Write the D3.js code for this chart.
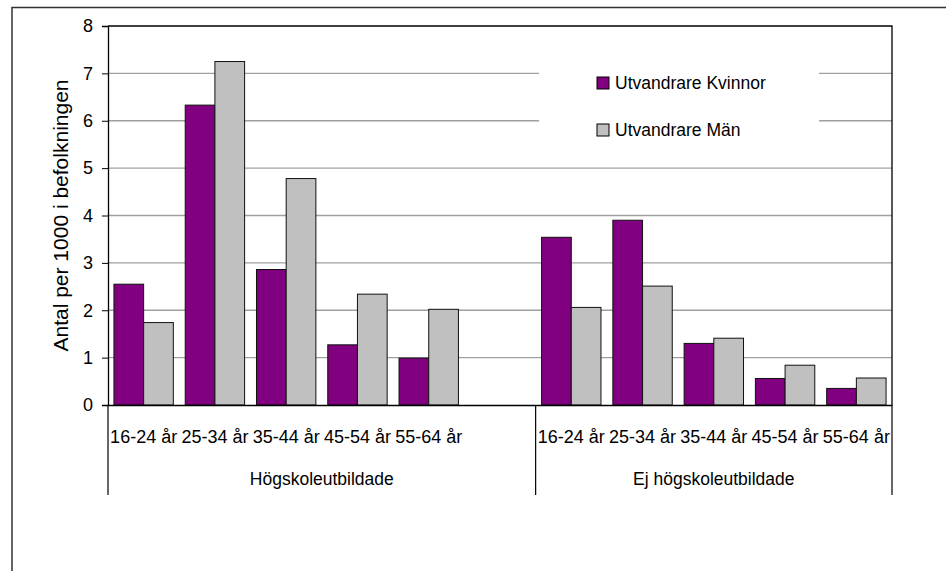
<!DOCTYPE html>
<html>
<head>
<meta charset="utf-8">
<script src="https://cdnjs.cloudflare.com/ajax/libs/d3/7.8.5/d3.min.js"></script>
<style>
  body { margin: 0; background: #fff; }
  text { font-family: "Liberation Sans", Arial, sans-serif; fill: #000; }
</style>
</head>
<body>
<script>
let svgWidth = 946;
let svgHeight = 571;

// data
let ageGroups = ["16-24 år", "25-34 år", "35-44 år", "45-54 år", "55-64 år"];
let educationGroups = ["Högskoleutbildade", "Ej högskoleutbildade"];
let seriesNames = ["Utvandrare Kvinnor", "Utvandrare Män"];
let womenHigh = [2.55, 6.33, 2.86, 1.27, 0.99];
let menHigh = [1.74, 7.25, 4.78, 2.34, 2.02];
let womenLow = [3.54, 3.90, 1.30, 0.56, 0.35];
let menLow = [2.06, 2.51, 1.41, 0.84, 0.57];
let yTicks = [0, 1, 2, 3, 4, 5, 6, 7, 8];
let colors = ["#800080", "#c0c0c0"];

let margin = { top: 26, right: 54, bottom: 166, left: 108 };
let chartWidth = svgWidth - margin.left - margin.right;
let chartHeight = svgHeight - margin.top - margin.bottom;

// one slot per category, the first group has an empty slot at its end
let slots = [];
ageGroups.forEach((a, i) => slots.push({ key: "0|" + a, age: a, group: 0, values: [womenHigh[i], menHigh[i]] }));
slots.push({ key: "0|blank", age: "", group: 0, values: [] });
ageGroups.forEach((a, i) => slots.push({ key: "1|" + a, age: a, group: 1, values: [womenLow[i], menLow[i]] }));

let svg = d3.select("body")
    .append("svg")
    .attr("width", svgWidth)
    .attr("height", svgHeight);

// outer frame (only top and left edge are inside the picture)
svg.append("rect")
    .attr("x", 12).attr("y", 7.5)
    .attr("width", 1000).attr("height", 1000)
    .attr("fill", "none")
    .attr("stroke", "#333")
    .attr("stroke-width", 1.5);

let chartGroup = svg.append("g")
    .attr("transform", `translate(${margin.left}, ${margin.top})`);

let xScale = d3.scaleBand()
    .domain(slots.map(d => d.key))
    .range([0, chartWidth]);

let xInner = d3.scaleBand()
    .domain([0, 1])
    .range([0, xScale.bandwidth()])
    .paddingOuter(0.2);

let yScale = d3.scaleLinear()
    .domain([0, 8])
    .range([chartHeight, 0]);

// grid lines
chartGroup.append("g")
    .selectAll("line")
    .data(yTicks.filter(t => t > 0 && t < 8))
    .join("line")
    .attr("x1", 0).attr("x2", chartWidth)
    .attr("y1", d => yScale(d)).attr("y2", d => yScale(d))
    .attr("stroke", "#a0a0a0")
    .attr("stroke-width", 1.3);

// legend (white box covers the grid)
let legend = chartGroup.append("g");
legend.append("rect")
    .attr("x", 539 - margin.left).attr("y", 52 - margin.top)
    .attr("width", 280).attr("height", 96)
    .attr("fill", "#fff");
seriesNames.forEach((name, i) => {
    let ly = 89 - margin.top + i * 47;
    legend.append("rect")
        .attr("x", 597 - margin.left).attr("y", ly - 12)
        .attr("width", 12).attr("height", 12)
        .attr("fill", colors[i])
        .attr("stroke", "#000")
        .attr("stroke-width", 1);
    legend.append("text")
        .attr("x", 615 - margin.left).attr("y", ly)
        .style("font-size", "17.5px")
        .text(name);
});

// bars
let slotGroups = chartGroup.append("g")
    .selectAll("g")
    .data(slots)
    .join("g")
    .attr("transform", d => `translate(${xScale(d.key)}, 0)`);

slotGroups.selectAll("rect")
    .data(d => d.values.map((v, i) => ({ v: v, i: i })))
    .join("rect")
    .attr("x", d => xInner(d.i))
    .attr("width", xInner.bandwidth())
    .attr("y", d => yScale(d.v))
    .attr("height", d => chartHeight - yScale(d.v))
    .attr("fill", d => colors[d.i])
    .attr("stroke", "#111")
    .attr("stroke-width", 1);

// plot border top and right
chartGroup.append("path")
    .attr("d", `M0,0H${chartWidth}V${chartHeight}`)
    .attr("fill", "none")
    .attr("stroke", "#000")
    .attr("stroke-width", 1.3);

// Y axis
let leftAxis = d3.axisLeft(yScale)
    .tickValues(yTicks)
    .tickSize(6)
    .tickPadding(9);
let yAxis = chartGroup.append("g").call(leftAxis);
yAxis.select(".domain").attr("stroke", "#000").attr("stroke-width", 1.3);
yAxis.selectAll(".tick line").attr("stroke", "#000");
yAxis.selectAll("text")
    .style("font-size", "18px")
    .style("font-family", "'Liberation Sans', Arial, sans-serif");

// X axis (category level)
let bottomAxis = d3.axisBottom(xScale)
    .tickSize(0)
    .tickPadding(0)
    .tickFormat(k => slots.find(s => s.key === k).age);
let xAxis = chartGroup.append("g")
    .attr("transform", `translate(0, ${chartHeight})`)
    .call(bottomAxis);
xAxis.select(".domain").attr("stroke", "#000").attr("stroke-width", 1.3);
xAxis.selectAll("text")
    .attr("y", 38)
    .attr("dy", 0)
    .style("font-size", "18px")
    .style("font-family", "'Liberation Sans', Arial, sans-serif");

// group level: dividers and labels
let groupBounds = educationGroups.map((g, gi) => {
    let keys = slots.filter(s => s.group === gi).map(s => s.key);
    let x0 = xScale(keys[0]);
    let x1 = xScale(keys[keys.length - 1]) + xScale.bandwidth();
    return { name: g, x0: x0, x1: x1 };
});
let dividers = [0].concat(groupBounds.map(b => b.x1));
chartGroup.append("g")
    .selectAll("line")
    .data(dividers)
    .join("line")
    .attr("x1", d => d).attr("x2", d => d)
    .attr("y1", chartHeight).attr("y2", chartHeight + 90)
    .attr("stroke", "#000")
    .attr("stroke-width", 1.2);

chartGroup.append("g")
    .selectAll("text")
    .data(groupBounds)
    .join("text")
    .attr("x", d => (d.x0 + d.x1) / 2)
    .attr("y", chartHeight + 80)
    .attr("text-anchor", "middle")
    .style("font-size", "17.5px")
    .text(d => d.name);

// Y axis title
chartGroup.append("text")
    .attr("transform", `translate(${68 - margin.left}, ${chartHeight / 2}) rotate(-90)`)
    .attr("text-anchor", "middle")
    .style("font-size", "21px")
    .text("Antal per 1000 i befolkningen");
</script>
</body>
</html>
